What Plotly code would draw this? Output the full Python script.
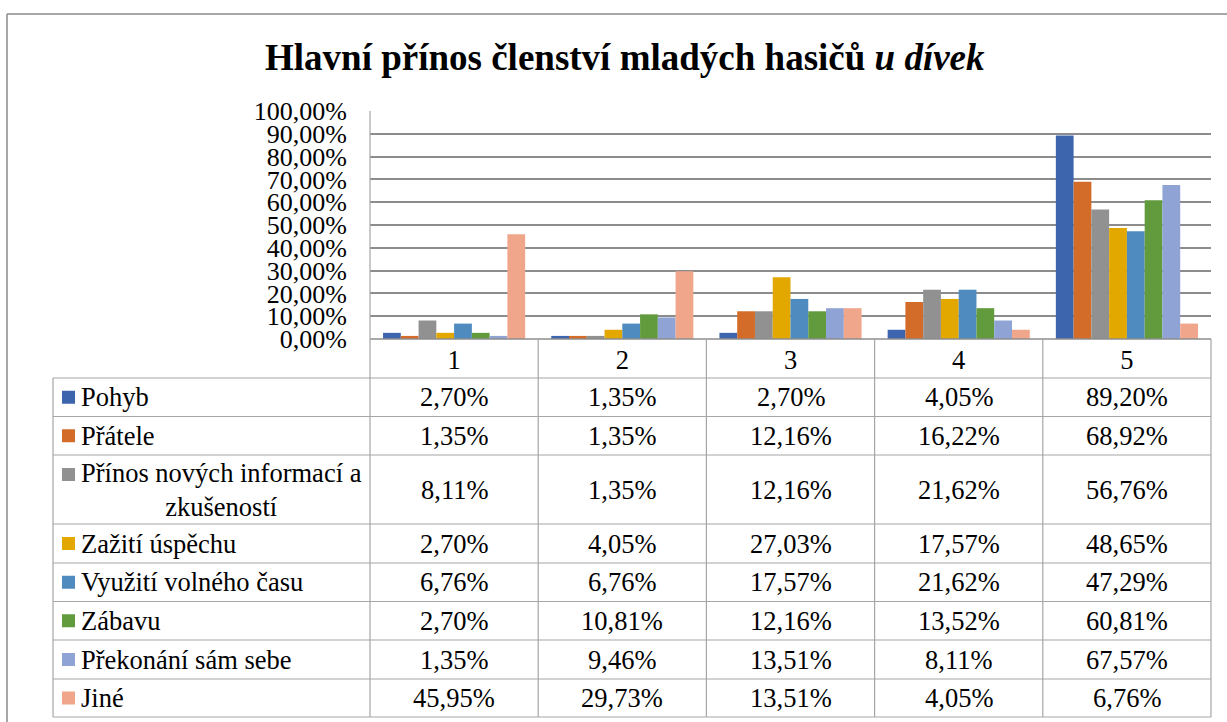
import plotly.graph_objects as go

# ---- data ----
categories = ["1", "2", "3", "4", "5"]
series_names = [
    "Pohyb",
    "Přátele",
    "Přínos nových informací a<br>zkušeností",
    "Zažití úspěchu",
    "Využití volného času",
    "Zábavu",
    "Překonání sám sebe",
    "Jiné",
]
pohyb = [2.70, 1.35, 2.70, 4.05, 89.20]
pratele = [1.35, 1.35, 12.16, 16.22, 68.92]
prinos = [8.11, 1.35, 12.16, 21.62, 56.76]
zaziti = [2.70, 4.05, 27.03, 17.57, 48.65]
vyuziti = [6.76, 6.76, 17.57, 21.62, 47.29]
zabavu = [2.70, 10.81, 12.16, 13.52, 60.81]
prekonani = [1.35, 9.46, 13.51, 8.11, 67.57]
jine = [45.95, 29.73, 13.51, 4.05, 6.76]
series_values = [pohyb, pratele, prinos, zaziti, vyuziti, zabavu, prekonani, jine]
y_ticks = [0, 0.1, 0.2, 0.3, 0.4, 0.5, 0.6, 0.7, 0.8, 0.9, 1.0]
title_text = "<b>Hlavní přínos členství mladých hasičů <i>u dívek</i></b>"

# ---- style ----
colors = ["#3D65AD", "#D36B29", "#919191", "#E2A800", "#4F8BBE", "#629A3E", "#8FA3D5", "#F0A68A"]
W, H = 1227, 722
FONT = "'Liberation Serif', 'Times New Roman', Times, serif"
FS = 26.5
TICK_FS = 26
GRID = "#8c8c8c"
TBL = "#a6a6a6"


def px(x):
    return x / W


def py(y):
    return 1 - y / H


plot_left, plot_right, plot_top, plot_bottom = 370, 1211, 111, 339
table_left = 53
row_bounds = [378, 416.5, 455, 524, 563, 601.5, 640, 679, 717]

fig = go.Figure()
for name, vals, col in zip(series_names, series_values, colors):
    fig.add_trace(go.Bar(
        x=categories, y=[v / 100 for v in vals], name=name.replace("<br>", " "),
        marker=dict(color=col, line=dict(width=0)), showlegend=False,
    ))

shapes = []
annotations = []

# outer frame
shapes.append(dict(type="line", xref="paper", yref="paper", x0=px(7), x1=px(1227), y0=py(14), y1=py(14),
                   line=dict(color="#8a8a8a", width=1.5)))
shapes.append(dict(type="line", xref="paper", yref="paper", x0=px(7), x1=px(7), y0=py(14), y1=py(722),
                   line=dict(color="#8a8a8a", width=1.5)))

# table horizontal lines
shapes.append(dict(type="line", xref="paper", yref="paper", x0=px(plot_left), x1=px(plot_right),
                   y0=py(plot_bottom), y1=py(plot_bottom), line=dict(color=GRID, width=1.5)))
for yb in row_bounds:
    shapes.append(dict(type="line", xref="paper", yref="paper", x0=px(table_left), x1=px(plot_right),
                       y0=py(yb), y1=py(yb), line=dict(color=TBL, width=1.2)))
# vertical lines
shapes.append(dict(type="line", xref="paper", yref="paper", x0=px(table_left), x1=px(table_left),
                   y0=py(row_bounds[0]), y1=py(row_bounds[-1]), line=dict(color=TBL, width=1.2)))
ncat = len(categories)
for i in range(ncat + 1):
    xv = plot_left + (plot_right - plot_left) * i / ncat
    y_start = plot_top if i == 0 else plot_bottom
    shapes.append(dict(type="line", xref="paper", yref="paper", x0=px(xv), x1=px(xv),
                       y0=py(y_start), y1=py(row_bounds[-1]), line=dict(color=TBL, width=1.2)))

# rows
for r, (name, vals, col) in enumerate(zip(series_names, series_values, colors)):
    top, bot = row_bounds[r], row_bounds[r + 1]
    yc = (top + bot) / 2
    nlines = name.count("<br>") + 1
    ykey = yc if nlines == 1 else top + 19.5
    shapes.append(dict(type="rect", xref="paper", yref="paper", x0=px(62), x1=px(75),
                       y0=py(ykey - 6.5), y1=py(ykey + 6.5), fillcolor=col, line=dict(width=0)))
    annotations.append(dict(xref="paper", yref="paper", x=px(79), y=py(yc), text=name, showarrow=False,
                            xanchor="left", yanchor="middle", align="center",
                            font=dict(family=FONT, size=FS, color="black")))
    for c, v in enumerate(vals):
        annotations.append(dict(xref="x", yref="paper", x=c, y=py(yc),
                                text=f"{v:.2f}".replace(".", ",") + "%", showarrow=False,
                                xanchor="center", yanchor="middle",
                                font=dict(family=FONT, size=FS, color="black")))

# title
annotations.append(dict(xref="paper", yref="paper", x=px(625), y=py(57), text=title_text, showarrow=False,
                        xanchor="center", yanchor="middle", font=dict(family=FONT, size=37, color="black")))

fig.update_layout(
    width=W, height=H, margin=dict(l=0, r=0, t=0, b=0, autoexpand=False),
    paper_bgcolor="white", plot_bgcolor="white",
    separators=", ",
    barmode="group", bargap=0.155, bargroupgap=0,
    shapes=shapes, annotations=annotations,
    font=dict(family=FONT, size=FS, color="black"),
    xaxis=dict(domain=[px(plot_left), px(plot_right)], type="category", range=[-0.5, 4.5],
               showgrid=False, zeroline=False, showline=False, ticks="",
               tickfont=dict(family=FONT, size=FS, color="black"), ticklabelstandoff=2),
    yaxis=dict(domain=[py(plot_bottom), py(plot_top)], range=[0, 1], tickvals=y_ticks, tickformat=".2%",
               showgrid=True, gridcolor=GRID, gridwidth=1.5, zeroline=False, showline=False, ticks="",
               tickfont=dict(family=FONT, size=TICK_FS, color="black"), ticklabelstandoff=22),
)

fig.write_html("out.html", config={"displayModeBar": False},
               post_script="document.body.style.margin='0';document.body.style.overflow='hidden';")
